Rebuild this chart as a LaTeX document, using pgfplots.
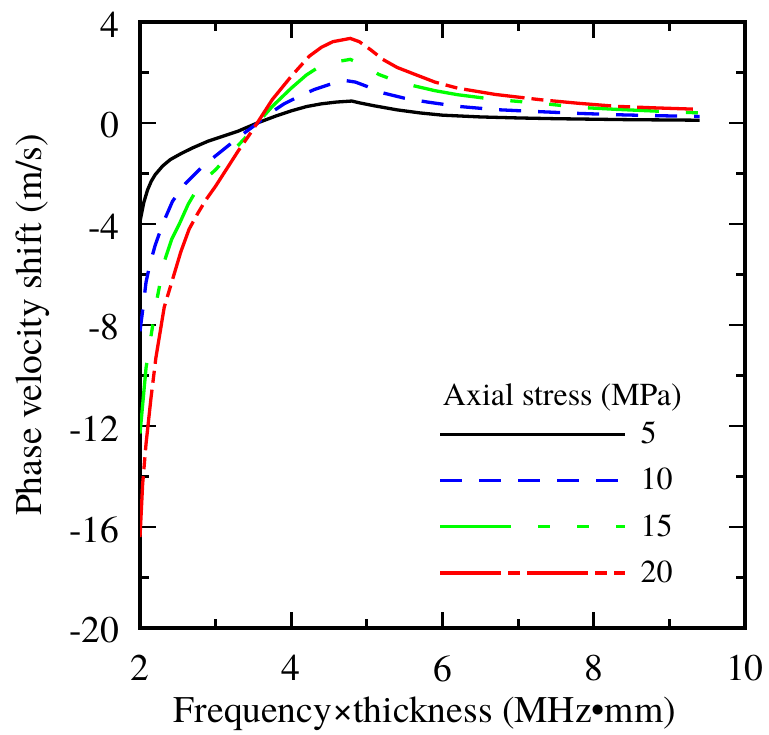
\documentclass[border=0pt]{standalone}
\usepackage{fontspec}
\setmainfont{TeX Gyre Termes}
\usepackage{pgfplots}
\pgfplotsset{compat=1.18}
\begin{document}
\begin{tikzpicture}
\useasboundingbox (-70pt,-53pt) rectangle (314.5pt,314pt);
\begin{axis}[
  at={(0pt,0pt)}, anchor=south west,
  scale only axis, width=302.5pt, height=303pt,
  xmin=2, xmax=10, ymin=-20, ymax=4,
  xtick={2,4,6,8,10}, xticklabels={2,4,6,8,10},
  minor xtick={3,5,7,9},
  ytick={-20,-16,-12,-8,-4,0,4}, yticklabels={-20,-16,-12,-8,-4,0,4},
  minor ytick={-18,-14,-10,-6,-2,2},
  tick align=inside, major tick length=8pt, minor tick length=4.5pt,
  every tick/.style={black, line width=1.4pt},
  axis line style={line width=1.7pt},
  tick label style={font=\fontsize{18.8}{22}\selectfont},
  xticklabel style={anchor=north, inner sep=0pt, yshift=-13.5pt},
  yticklabel style={anchor=east, inner sep=0pt, xshift=-10pt, yshift=-1.2pt},
  label style={font=\fontsize{18.8}{22}\selectfont},
  xlabel={Frequency×thickness (MHz•mm)},
  ylabel={Phase velocity shift (m/s)},
  xlabel style={at={(axis description cs:0.471,0)}, anchor=base, yshift=-47pt, inner sep=0pt},
  ylabel style={at={(axis description cs:-0.162,0.5)}, anchor=base, inner sep=0pt},
  legend style={at={(axis cs:5.94,-11.66)}, anchor=north west, draw=none, fill=none,
    font=\fontsize{16}{19}\selectfont, row sep=6.7pt, inner sep=0pt,
    /tikz/every odd column/.append style={column sep=5pt}},
  legend cell align=left,
  legend image code/.code={\draw[#1] (0pt,0pt) -- (92.5pt,0pt);},
]
\addplot[black, line width=1.65pt] coordinates {
(2.00,-3.90) (2.05,-3.15) (2.10,-2.65) (2.15,-2.30) (2.20,-2.05) (2.30,-1.70)
(2.40,-1.45) (2.55,-1.20) (2.70,-0.98) (2.90,-0.72) (3.10,-0.52) (3.30,-0.32)
(3.55,0.00) (3.80,0.28) (4.00,0.48) (4.20,0.65) (4.40,0.76) (4.60,0.83)
(4.80,0.87) (4.90,0.80) (5.10,0.68) (5.40,0.52) (5.70,0.40) (6.00,0.31)
(6.50,0.24) (7.00,0.20) (7.50,0.17) (8.00,0.15) (8.50,0.13) (9.00,0.12) (9.40,0.11)};
\addlegendentry{5}
\addplot[blue, line width=1.65pt, dash pattern=on 11pt off 8.5pt] coordinates {
(2.00,-8.25) (2.04,-7.30) (2.08,-6.30) (2.13,-5.60) (2.20,-4.85) (2.30,-4.00)
(2.43,-3.10) (2.60,-2.40) (2.80,-1.80) (3.00,-1.30) (3.20,-0.82) (3.40,-0.35)
(3.55,-0.02) (3.70,0.35) (3.90,0.75) (4.10,1.05) (4.30,1.32) (4.50,1.52)
(4.72,1.68) (4.85,1.62) (5.00,1.45) (5.20,1.20) (5.50,0.98) (5.80,0.83)
(6.20,0.66) (6.70,0.53) (7.20,0.46) (7.80,0.38) (8.40,0.32) (9.00,0.28) (9.40,0.26)};
\addlegendentry{10}
\addplot[green, line width=1.65pt, dash pattern=on 35.5pt off 13.5pt on 6pt off 13.5pt on 6pt off 13.5pt] coordinates {
(2.00,-12.30) (2.04,-11.00) (2.08,-9.70) (2.14,-8.55) (2.21,-7.20) (2.32,-5.50)
(2.42,-4.60) (2.52,-4.00) (2.64,-3.20) (2.74,-2.70) (2.87,-2.20) (3.00,-1.85)
(3.15,-1.35) (3.30,-0.88) (3.45,-0.40) (3.55,-0.02) (3.75,0.66) (4.00,1.38)
(4.20,1.90) (4.35,2.19) (4.55,2.40) (4.78,2.52) (4.95,2.30) (5.16,1.92)
(5.40,1.65) (5.64,1.46) (5.90,1.28) (6.20,1.12) (6.70,0.93) (7.30,0.78)
(7.80,0.62) (8.30,0.54) (8.90,0.46) (9.40,0.40)};
\addlegendentry{15}
\addplot[red, line width=1.65pt, dash pattern=on 30.5pt off 3.5pt on 6pt off 3.5pt] coordinates {
(2.00,-16.40) (2.035,-14.30) (2.08,-12.70) (2.145,-10.90) (2.21,-9.30) (2.32,-7.30)
(2.43,-6.20) (2.54,-5.10) (2.65,-4.20) (2.76,-3.60) (2.87,-3.05) (3.00,-2.50)
(3.15,-1.80) (3.30,-1.10) (3.45,-0.45) (3.55,0.00) (3.75,0.93) (4.00,1.85)
(4.24,2.65) (4.40,3.00) (4.55,3.22) (4.78,3.35) (4.90,3.22) (5.05,2.90)
(5.21,2.52) (5.40,2.20) (5.64,1.92) (5.90,1.62) (6.20,1.38) (6.70,1.13)
(7.30,0.92) (7.80,0.78) (8.30,0.66) (8.80,0.60) (9.31,0.55)};
\addlegendentry{20}
\node[anchor=base west, inner sep=0pt, font=\fontsize{16}{19}\selectfont] at (axis cs:6.0,-11.2) {Axial stress (MPa)};
\end{axis}
\end{tikzpicture}
\end{document}
